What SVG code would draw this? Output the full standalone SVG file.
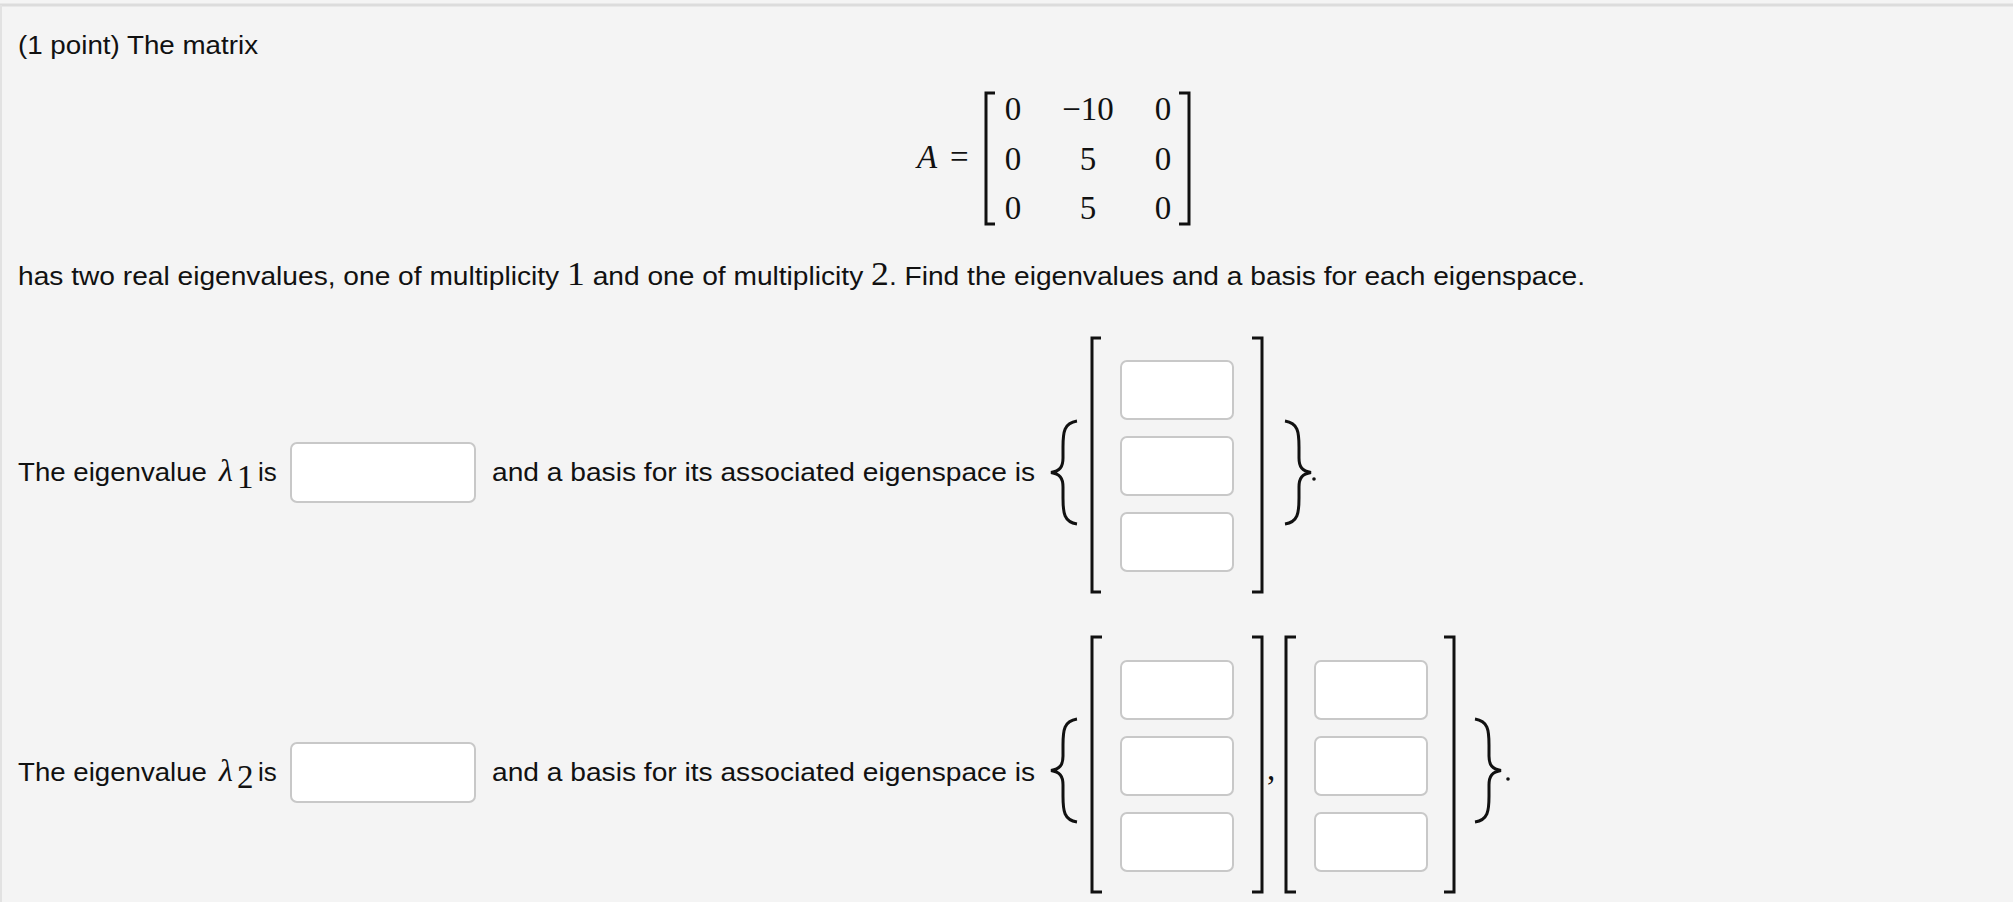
<svg xmlns="http://www.w3.org/2000/svg" width="2013" height="902" viewBox="0 0 2013 902">
<style>
.t{font-family:"Liberation Sans",Arial,sans-serif;font-size:26px;fill:#111}
.m{font-family:"Liberation Serif","Times New Roman",serif;font-size:33px;fill:#111}
.mi{font-family:"Liberation Serif","Times New Roman",serif;font-style:italic;fill:#111}
.box{fill:#fff;stroke:#c8c8c8;stroke-width:2}
.br{fill:none;stroke:#111;stroke-width:3}
.brace{fill:none;stroke:#111;stroke-width:3}
</style>
<rect x="0" y="0" width="2013" height="902" fill="#f4f4f4"/>
<line x1="0" y1="5" x2="2013" y2="5" stroke="#dcdcdc" stroke-width="3"/>
<line x1="1" y1="5" x2="1" y2="902" stroke="#e2e2e2" stroke-width="2"/>

<g id="title"><text class="t" x="18" y="54" textLength="240" lengthAdjust="spacingAndGlyphs">(1 point) The matrix</text></g>

<g id="matrixA">
<text class="mi" x="917" y="168" font-size="33">A</text>
<text class="m" x="950" y="168">=</text>
<path class="br" d="M995,93 H986 V224 H995"/>
<path class="br" d="M1179,93 H1189 V224 H1179"/>
<g text-anchor="middle">
<text class="m" x="1013" y="120">0</text><text class="m" x="1088" y="120">−10</text><text class="m" x="1163" y="120">0</text>
<text class="m" x="1013" y="170">0</text><text class="m" x="1088" y="170">5</text><text class="m" x="1163" y="170">0</text>
<text class="m" x="1013" y="219">0</text><text class="m" x="1088" y="219">5</text><text class="m" x="1163" y="219">0</text>
</g>
</g>

<g id="statement"><text class="t" x="18" y="285" textLength="1567" lengthAdjust="spacingAndGlyphs">has two real eigenvalues, one of multiplicity <tspan class="m" font-size="30">1</tspan> and one of multiplicity <tspan class="m" font-size="30">2</tspan>. Find the eigenvalues and a basis for each eigenspace.</text></g>

<g id="row1">
<text class="t" x="18" y="481" textLength="189" lengthAdjust="spacingAndGlyphs">The eigenvalue</text>
<text class="mi" x="219" y="481" font-size="32">λ</text><text class="m" x="237" y="488" font-size="20">1</text>
<text class="t" x="258" y="481">is</text>
<rect id="lambda1" class="box" x="291" y="443" width="184" height="59" rx="6"/>
<text class="t" x="492" y="481" textLength="543" lengthAdjust="spacingAndGlyphs">and a basis for its associated eigenspace is</text>
<path class="brace" d="M1077,421 C1064,423 1063,432 1063,447 V458 C1063,467 1060,471 1051,472.5 C1060,474 1063,478 1063,487 V498 C1063,513 1064,522 1077,524"/>
<path class="br" d="M1101,338 H1092 V592 H1101"/>
<rect class="box" x="1121" y="361" width="112" height="58" rx="6"/>
<rect class="box" x="1121" y="437" width="112" height="58" rx="6"/>
<rect class="box" x="1121" y="513" width="112" height="58" rx="6"/>
<path class="br" d="M1252,338 H1262 V592 H1252"/>
<path class="brace" d="M1285,421 C1298,423 1299,432 1299,447 V458 C1299,467 1302,471 1311,472.5 C1302,474 1299,478 1299,487 V498 C1299,513 1298,522 1285,524"/>
<circle cx="1314" cy="479" r="1.8" fill="#111"/>
</g>

<g id="row2">
<text class="t" x="18" y="781" textLength="189" lengthAdjust="spacingAndGlyphs">The eigenvalue</text>
<text class="mi" x="219" y="781" font-size="32">λ</text><text class="m" x="237" y="788" font-size="20">2</text>
<text class="t" x="258" y="781">is</text>
<rect id="lambda2" class="box" x="291" y="743" width="184" height="59" rx="6"/>
<text class="t" x="492" y="781" textLength="543" lengthAdjust="spacingAndGlyphs">and a basis for its associated eigenspace is</text>
<path class="brace" d="M1077,719 C1064,721 1063,730 1063,745 V756 C1063,765 1060,769 1051,770.5 C1060,772 1063,776 1063,785 V796 C1063,811 1064,820 1077,822"/>
<path class="br" d="M1102,637 H1092 V892 H1102"/>
<rect class="box" x="1121" y="661" width="112" height="58" rx="6"/>
<rect class="box" x="1121" y="737" width="112" height="58" rx="6"/>
<rect class="box" x="1121" y="813" width="112" height="58" rx="6"/>
<path class="br" d="M1252,637 H1262 V892 H1252"/>
<text class="m" x="1267" y="780" font-size="24">,</text>
<path class="br" d="M1296,637 H1286 V892 H1296"/>
<rect class="box" x="1315" y="661" width="112" height="58" rx="6"/>
<rect class="box" x="1315" y="737" width="112" height="58" rx="6"/>
<rect class="box" x="1315" y="813" width="112" height="58" rx="6"/>
<path class="br" d="M1444,637 H1454 V892 H1444"/>
<path class="brace" d="M1475,719 C1488,721 1489,730 1489,745 V756 C1489,765 1492,769 1501,770.5 C1492,772 1489,776 1489,785 V796 C1489,811 1488,820 1475,822"/>
<circle cx="1508" cy="779" r="1.8" fill="#111"/>
</g>
</svg>
